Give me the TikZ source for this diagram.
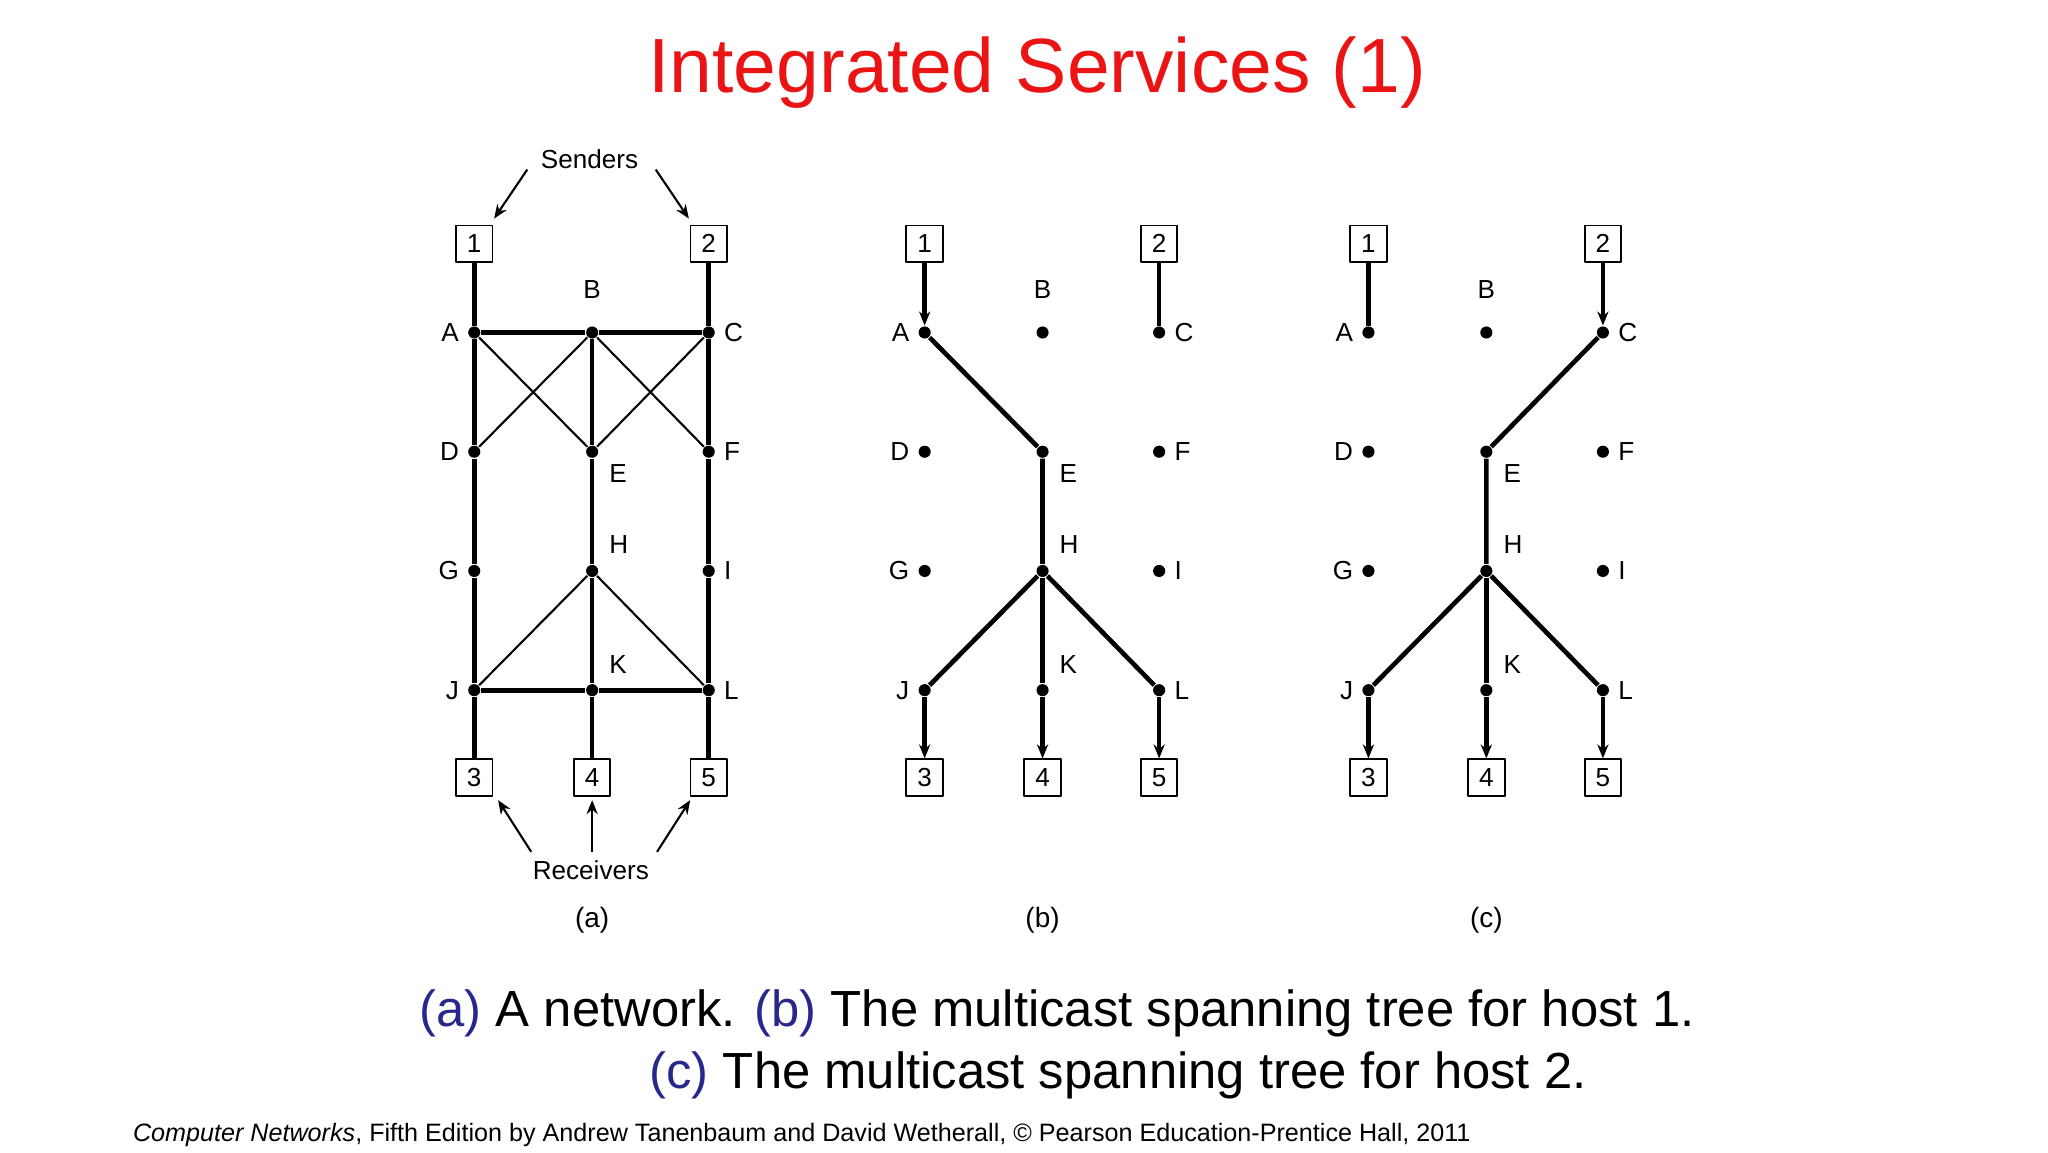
\documentclass[tikz,border=0pt]{standalone}
\usepackage{fontspec}
\setmainfont{Liberation Sans}
\usetikzlibrary{arrows.meta}
\definecolor{titlered}{RGB}{235,20,20}
\definecolor{capblue}{RGB}{40,40,140}
\tikzset{
  dot/.style={circle,fill,inner sep=0pt,minimum size=2.6pt},
  host/.style={draw,line width=0.4pt,minimum size=28*0.28pt,inner sep=0pt,font=\fontsize{5.6}{7}\selectfont},
  lab/.style={font=\fontsize{5.6}{7}\selectfont},
  edge/.style={line width=1pt},
  thin/.style={line width=0.45pt},
  tip/.style={-{Stealth[length=3pt,width=2.4pt]}},
}
\begin{document}
\begin{tikzpicture}[x=0.01cm,y=-0.01cm,line join=round,label distance=0.6pt,
  every label/.style={lab,inner sep=1pt}]
\useasboundingbox (0,0) rectangle (1546,870);
\node[text=titlered,font=\fontsize{16.5}{19}\selectfont] (title) at (783,55) {Integrated Services (1)};

% nodes of the three panels
\foreach \p/\dx in {a/0,b/340,c/675}{
  \begin{scope}[shift={(\dx,0)}]
    \node[dot,label=left:A] (\p A) at (358,251) {};
    \node[dot,label={[yshift=4pt]above:B}] (\p B) at (447,251) {};
    \node[dot,label=right:C] (\p C) at (535,251) {};
    \node[dot,label=left:D] (\p D) at (358,341) {};
    \node[dot,label={[xshift=1pt]below right:E}] (\p E) at (447,341) {};
    \node[dot,label=right:F] (\p F) at (535,341) {};
    \node[dot,label=left:G] (\p G) at (358,431) {};
    \node[dot,label={[xshift=1pt,yshift=1pt]above right:H}] (\p H) at (447,431) {};
    \node[dot,label=right:I] (\p I) at (535,431) {};
    \node[dot,label=left:J] (\p J) at (358,521) {};
    \node[dot,label={[xshift=1pt,yshift=1pt]above right:K}] (\p K) at (447,521) {};
    \node[dot,label=right:L] (\p L) at (535,521) {};
    \node[host] (\p 1) at (358,184) {1};
    \node[host] (\p 2) at (535,184) {2};
    \node[host] (\p 3) at (358,587) {3};
    \node[host] (\p 4) at (447,587) {4};
    \node[host] (\p 5) at (535,587) {5};
    \node[lab,font=\fontsize{6}{8}\selectfont] (\p cap) at (447,695) {(\p)};
  \end{scope}
}

% (a) the network
\draw[edge] (a1) -- (aA) -- (aD) -- (aG) -- (aJ) -- (a3);
\draw[edge] (aB) -- (aE) -- (aH) -- (aK) -- (a4);
\draw[edge] (a2) -- (aC) -- (aF) -- (aI) -- (aL) -- (a5);
\draw[edge] (aA) -- (aB) -- (aC);
\draw[edge] (aJ) -- (aK) -- (aL);
\draw[thin] (aA) -- (aE) -- (aC);
\draw[thin] (aD) -- (aB) -- (aF);
\draw[thin] (aJ) -- (aH) -- (aL);
\node[lab] (senders) at (445,120) {Senders};
\node[lab] (receivers) at (446,657) {Receivers};
\coordinate (s1) at (398,128);
\coordinate (s2) at (495,128);
\draw[thin,tip] (s1) -- (373,165);
\draw[thin,tip] (s2) -- (520,165);
\coordinate (r1) at (401,643);
\coordinate (r2) at (447,643);
\coordinate (r3) at (496,643);
\draw[thin,tip] (r1) -- (376,604);
\draw[thin,tip] (r2) -- (447,604);
\draw[thin,tip] (r3) -- (521,604);

% (b) tree for host 1
\draw[edge,tip] (b1) -- (bA);
\draw[edge] (b2) -- (bC);
\draw[edge] (bA) -- (bE) -- (bH);
\draw[edge] (bH) -- (bJ);
\draw[edge] (bH) -- (bK);
\draw[edge] (bH) -- (bL);
\draw[edge,tip] (bJ) -- (b3);
\draw[edge,tip] (bK) -- (b4);
\draw[edge,tip] (bL) -- (b5);

% (c) tree for host 2
\draw[edge] (c1) -- (cA);
\draw[edge,tip] (c2) -- (cC);
\draw[edge] (cC) -- (cE) -- (cH);
\draw[edge] (cH) -- (cJ);
\draw[edge] (cH) -- (cK);
\draw[edge] (cH) -- (cL);
\draw[edge,tip] (cJ) -- (c3);
\draw[edge,tip] (cK) -- (c4);
\draw[edge,tip] (cL) -- (c5);

% caption
\node[font=\fontsize{10.9}{13}\selectfont] (cap1) at (798,765)
  {\textcolor{capblue}{(a)} A network. \textcolor{capblue}{(b)} The multicast spanning tree for host 1.};
\node[anchor=west,font=\fontsize{10.9}{13}\selectfont] (cap2) at (478,812)
  {\textcolor{capblue}{(c)} The multicast spanning tree for host 2.};
\node[anchor=west,font=\fontsize{5.4}{7}\selectfont] (foot) at (88,857)
  {\textit{Computer Networks}, Fifth Edition by Andrew Tanenbaum and David Wetherall, © Pearson Education-Prentice Hall, 2011};
\end{tikzpicture}
\end{document}
